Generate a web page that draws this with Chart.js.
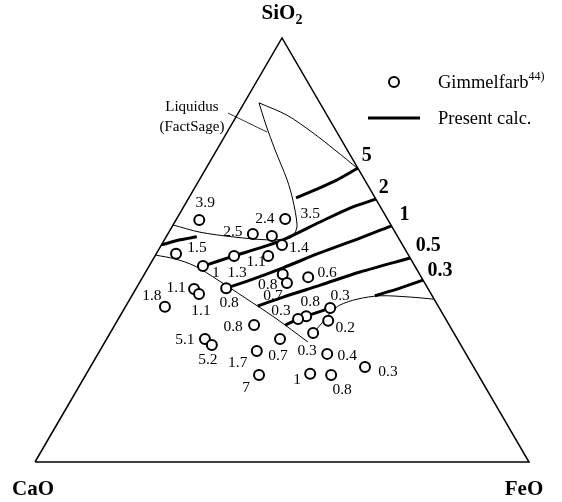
<!DOCTYPE html>
<html>
<head>
<meta charset="utf-8">
<script src="https://cdn.jsdelivr.net/npm/chart.js@4"></script>
<style>
  html, body { margin: 0; padding: 0; background: #fff; }
  #wrap { width: 562px; height: 502px; }
</style>
</head>
<body>
<div id="wrap"><canvas id="chart" width="562" height="502"></canvas></div>
<script>
// Compositions in mass %: [SiO2, FeO], CaO is the rest
// Gimmelfarb data points and the measured value printed next to each
const gimSiO2 = [57.1, 53.8, 53.3, 57.3, 51.2, 49.1, 46.2, 48.6, 48.6, 44.3, 42.2, 43.6, 41.0, 40.8, 39.6, 36.6,
                 36.3, 34.4, 33.7, 33.3, 30.4, 32.3, 29.0, 29.0, 27.6, 26.2, 20.5, 25.5, 20.8, 20.5, 22.4];
const gimFeO  = [4.7, 17.2, 21.3, 22.0, 24.4, 4.0, 10.9, 16.0, 22.9, 28.0, 29.9, 33.5, 18.2, 11.8, 13.4, 8.0,
                 41.6, 37.7, 36.4, 42.7, 41.1, 28.2, 35.1, 19.9, 22.0, 31.8, 35.1, 46.4, 45.3, 49.7, 55.6];
const gimLabel = ['3.9', '2.5', '2.4', '3.5', '1.4', '1.5', '1', '1.3', '1.1', '0.8', '0.7', '0.6', '0.8', '1.1', '1.1', '1.8',
                  '0.3', '0.8', '0.3', '0.2', '0.3', '0.8', '0.7', '5.1', '5.2', '1.7', '7', '0.4', '1', '0.8', '0.3'];

// Liquidus (FactSage) boundaries
const liquidusA1 = [[55.9, 0.0], [54.2, 6.3], [53.1, 13.5], [52.4, 20.8], [52.8, 25.2], [54.0, 25.6], [55.9, 25.1],
                    [61.8, 21.3], [66.5, 17.8], [73.6, 11.8], [79.5, 7.0], [84.7, 3.0]];
const liquidusA2 = [[84.7, 3.0], [81.8, 10.1], [77.6, 17.5], [73.6, 23.9], [69.1, 30.9]];
const liquidusB = [[48.8, 0.0], [47.9, 4.4], [46.2, 9.3], [42.9, 15.6], [38.7, 23.2], [34.0, 31.6], [28.3, 41.1]];
const liquidusC = [[30.4, 41.1], [32.8, 41.7], [35.1, 42.2], [37.0, 43.2], [38.4, 46.0], [39.2, 50.2], [38.9, 56.5], [38.4, 61.6]];
const leader = [[82.3, -2.1], [77.8, 8.1]];

// Present calc. iso-lines
const isoValues = ['5', '2', '1', '0.5', '0.3'];
const iso5   = [[62.3, 21.7], [64.2, 24.6], [66.3, 27.6], [69.3, 30.7]];
const iso2   = [[46.2, 10.9], [48.6, 16.0], [50.5, 20.3], [52.4, 24.0], [56.6, 29.4], [59.9, 33.8], [62.0, 38.0]];
const iso2b  = [[51.2, 0.0], [52.4, 3.2], [53.1, 6.2]];
const iso1   = [[41.0, 18.2], [42.9, 22.1], [45.8, 27.3], [49.3, 33.0], [52.8, 39.4], [55.7, 44.3]];
const iso05  = [[36.8, 26.7], [38.9, 30.8], [41.7, 36.9], [44.8, 43.4], [48.1, 51.9]];
const iso03a = [[32.3, 34.5], [33.7, 36.4], [34.4, 37.7], [36.3, 41.6]];
const iso03b = [[39.2, 49.2], [41.0, 53.4], [42.9, 57.1]];

const triangle = [[0, 0], [0, 100], [100, 0], [0, 0]];

// ternary -> cartesian (base 0..100, height 0..100)
function toXY(p) { return { x: p[1] + p[0] / 2, y: p[0] }; }

// label offsets in px (layout only)
const labelOffsets = [[6, -17], [-20, -2], [-7, -17], [25, -5], [17, 3], [21, -6], [13, 7], [3, 17], [-12, 6], [-15, 11],
                      [-14, 13], [19, -4], [3, 15], [-18, -1], [2, 17], [-13, -11], [10, -12], [4, -14], [-17, -8], [17, 7],
                      [-6, 18], [-21, 2], [-2, 17], [-20, 1], [-4, 15], [-19, 12], [-13, 13], [20, 2], [-13, 6], [11, 15], [23, 5]];
const isoLabelOffsets = [[9, -12], [8, -11], [13, -11], [18, -12], [17, -9]];

const SERIF = '"Liberation Serif", "DejaVu Serif", serif';

function thin(data, w, t) {
    return { type: 'line', data: data.map(toXY), borderColor: '#000', borderWidth: w || 1,
             pointRadius: 0, fill: false, tension: t === undefined ? 0.3 : t, clip: false };
}
function thick(data) {
    return { type: 'line', data: data.map(toXY), borderColor: '#000', borderWidth: 3,
             pointRadius: 0, fill: false, tension: 0.3, clip: false };
}

const textPlugin = {
    id: 'texts',
    afterDatasetsDraw(chart) {
        const ctx = chart.ctx;
        const xs = chart.scales.x, ys = chart.scales.y;
        const px = p => { const q = toXY(p); return [xs.getPixelForValue(q.x), ys.getPixelForValue(q.y)]; };
        ctx.save();
        ctx.fillStyle = '#000';
        ctx.textAlign = 'center';
        ctx.textBaseline = 'middle';

        // point values
        ctx.font = '15.5px ' + SERIF;
        const meta = chart.getDatasetMeta(0);
        meta.data.forEach((pt, i) => {
            ctx.fillText(gimLabel[i], pt.x + labelOffsets[i][0], pt.y + labelOffsets[i][1]);
        });

        // iso-line values at the FeO-SiO2 side
        ctx.font = 'bold 20px ' + SERIF;
        [iso5, iso2, iso1, iso05, iso03b].forEach((line, i) => {
            const e = px(line[line.length - 1]);
            ctx.fillText(isoValues[i], e[0] + isoLabelOffsets[i][0], e[1] + isoLabelOffsets[i][1]);
        });

        // corner labels
        ctx.font = 'bold 21px ' + SERIF;
        let c = px([0, 0]);
        ctx.fillText('CaO', c[0] - 2, c[1] + 28);
        c = px([0, 100]);
        ctx.fillText('FeO', c[0] - 5, c[1] + 28);
        c = px([100, 0]);
        ctx.textAlign = 'left';
        const w1 = ctx.measureText('SiO').width;
        ctx.font = 'bold 14px ' + SERIF;
        const w2 = ctx.measureText('2').width;
        const x0 = c[0] - (w1 + w2) / 2;
        ctx.font = 'bold 21px ' + SERIF;
        ctx.fillText('SiO', x0, c[1] - 24);
        ctx.font = 'bold 14px ' + SERIF;
        ctx.fillText('2', x0 + w1, c[1] - 18);

        // liquidus note
        ctx.textAlign = 'center';
        ctx.font = '15px ' + SERIF;
        const l = px(leader[0]);
        ctx.fillText('Liquidus', l[0] - 36, l[1] - 6);
        ctx.fillText('(FactSage)', l[0] - 36, l[1] + 14);

        // legend
        ctx.lineWidth = 2;
        ctx.strokeStyle = '#000';
        ctx.beginPath();
        ctx.arc(394, 82, 5, 0, Math.PI * 2);
        ctx.stroke();
        ctx.lineWidth = 3;
        ctx.beginPath();
        ctx.moveTo(368, 118);
        ctx.lineTo(420, 118);
        ctx.stroke();
        ctx.textAlign = 'left';
        ctx.font = '18.5px ' + SERIF;
        ctx.fillText('Gimmelfarb', 438, 83);
        const gw = ctx.measureText('Gimmelfarb').width;
        ctx.font = '12px ' + SERIF;
        ctx.fillText('44)', 438 + gw, 77);
        ctx.font = '18.5px ' + SERIF;
        ctx.fillText('Present calc.', 438, 119);
        ctx.restore();
    }
};

new Chart(document.getElementById('chart'), {
    type: 'scatter',
    data: {
        datasets: [
            {
                label: 'Gimmelfarb',
                data: gimSiO2.map((s, i) => toXY([s, gimFeO[i]])),
                pointRadius: 5,
                pointBorderWidth: 2,
                pointBorderColor: '#000',
                pointBackgroundColor: '#fff',
                showLine: false,
                clip: false
            },
            thin(triangle, 1.5, 0),
            thin(liquidusA1),
            thin(liquidusA2),
            thin(liquidusB),
            thin(liquidusC),
            thin(leader, 0.8, 0),
            thick(iso5),
            thick(iso2),
            thick(iso2b),
            thick(iso1),
            thick(iso05),
            thick(iso03a),
            thick(iso03b)
        ]
    },
    options: {
        responsive: false,
        animation: false,
        layout: { padding: 0, autoPadding: false },
        plugins: { legend: { display: false }, tooltip: { enabled: false } },
        scales: {
            x: { type: 'linear', display: false, min: -7.085, max: 106.68 },
            y: { type: 'linear', display: false, min: -9.434, max: 108.96 }
        }
    },
    plugins: [textPlugin]
});
</script>
</body>
</html>
